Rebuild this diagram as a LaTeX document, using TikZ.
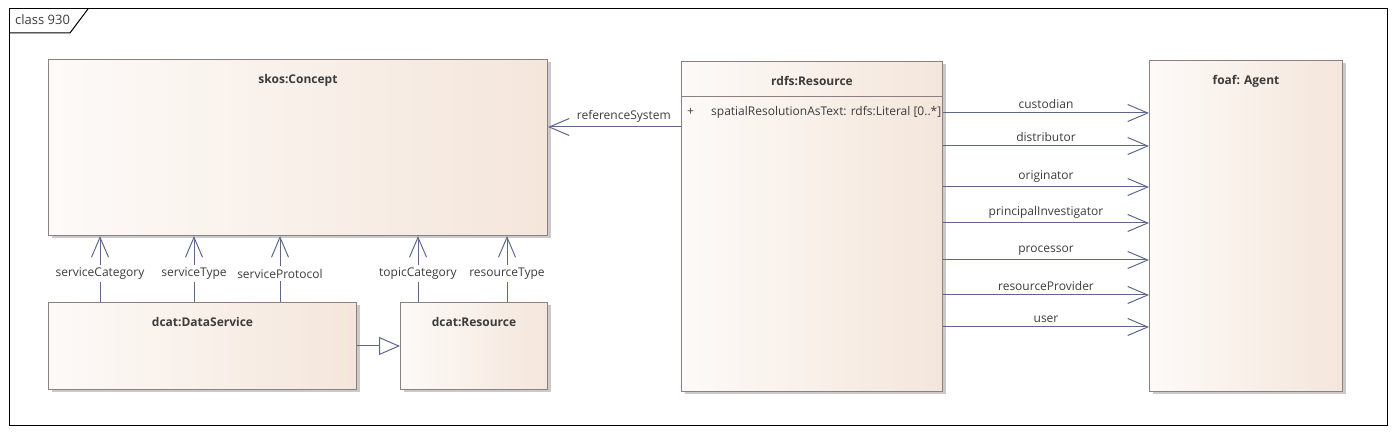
\documentclass[tikz,border=0pt]{standalone}
\usepackage{fontspec}
\setmainfont{Open Sans}
\usetikzlibrary{arrows.meta,calc,shadows}
\definecolor{uLine}{HTML}{5E6888}
\definecolor{uBorder}{HTML}{8C8080}
\definecolor{uInk}{HTML}{3C3C3C}
\definecolor{uFillL}{HTML}{FDFAF8}
\definecolor{uFillR}{HTML}{F4E6DB}
\definecolor{uShadow}{HTML}{CACACA}

\begin{document}
\begin{tikzpicture}[x=1pt, y=-1pt, font=\fontsize{12}{14}\selectfont, text=uInk,
  classbox/.style={draw=uBorder, line width=1pt, left color=uFillL, right color=uFillR,
    drop shadow={shadow xshift=3pt, shadow yshift=-3pt, fill=uShadow, opacity=1},
    anchor=north west, inner sep=0pt},
  title/.style={font=\fontsize{12}{14}\selectfont\bfseries, anchor=north, yshift=-12pt},
  assoc/.style={draw=uLine, line width=1pt, -{Straight Barb[length=20pt, width=17pt]}},
  gener/.style={draw=uLine, line width=1pt, -{Triangle[open, length=21pt, width=18pt, fill=white]}},
  rolelab/.style={fill=white, inner sep=3pt}]
  \useasboundingbox (0,0) rectangle (1395,435);
  % diagram frame
  \draw[line width=1pt] (9,9) rectangle (1387,426);
  \draw[line width=1pt] (9,33) -- (70,33) -- (88,9);
  \node[anchor=west, inner sep=0pt, font=\fontsize{13}{15}\selectfont] (tab) at (15,20) {class 930};
  % classes
  \node[classbox, minimum width=499pt, minimum height=176pt, label={[title]north:{skos:Concept}}] (con) at (48,59) {};
  \node[classbox, minimum width=308pt, minimum height=87pt, label={[title]north:{dcat:DataService}}] (ds) at (48,302) {};
  \node[classbox, minimum width=147pt, minimum height=87pt, label={[title]north:{dcat:Resource}}] (dr) at (400,302) {};
  \node[classbox, minimum width=261pt, minimum height=330pt, label={[title]north:{rdfs:Resource}}] (rr) at (681,61) {};
  \node[classbox, minimum width=193pt, minimum height=331pt, label={[title]north:{foaf: Agent}}] (ag) at (1149,60) {};
  \draw[draw=uBorder, line width=1pt] ($(rr.north west)+(0,36)$) -- ($(rr.north east)+(0,36)$);
  \node[anchor=west, inner sep=0pt] (attplus) at ($(rr.north west)+(6,51)$) {+};
  \node[anchor=west, inner sep=0pt] (att) at ($(rr.north west)+(30,51)$) {spatialResolutionAsText: rdfs:Literal [0..*]};
  % associations to skos:Concept
  \foreach \dx/\lab in {52/serviceCategory, 146/serviceType, 232/serviceProtocol}
    \draw[assoc] ($(ds.north west)+(\dx,0)$) -- node[rolelab, pos=0.43] {\lab} ($(con.south west)+(\dx,0)$);
  \foreach \dx/\lab in {18/topicCategory, 107/resourceType}
    \draw[assoc] ($(dr.north west)+(\dx,0)$) -- node[rolelab, pos=0.43] {\lab} ($(dr.north west |- con.south)+(\dx,0)$);
  \draw[gener] ($(ds.north east)+(0,44)$) -- ($(dr.north west)+(0,44)$);
  \draw[assoc] ($(rr.north west)+(0,66)$) -- node[above=1pt, pos=0.43] {referenceSystem} ($(rr.north west -| con.east)+(0,66)$);
  % associations to foaf: Agent
  \foreach \dy/\lab in {52/custodian, 85/distributor, 126/originator, 162/principalInvestigator,
      199/processor, 234/resourceProvider, 266/user}
    \draw[assoc] ($(rr.north east)+(0,\dy)$) -- node[above=1pt] {\lab} ($(rr.north east -| ag.west)+(0,\dy)$);
\end{tikzpicture}
\end{document}
